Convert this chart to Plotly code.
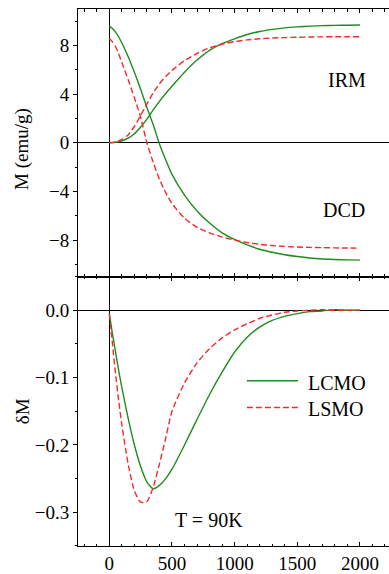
import plotly.graph_objects as go

# Applied field (Oe)
field = [0, 25, 50, 75, 100, 150, 200, 250, 300, 350, 400, 450, 500, 600, 700,
         800, 900, 1000, 1100, 1200, 1300, 1400, 1500, 1600, 1700, 1800, 1900, 2000]

# Remanence curves, M (emu/g)
irm_lcmo = [0, 0.01, 0.04, 0.09, 0.16, 0.38, 0.75, 1.3, 1.95, 2.7, 3.4, 4.05, 4.65, 5.8, 6.8,
            7.6, 8.15, 8.55, 8.9, 9.15, 9.32, 9.45, 9.53, 9.59, 9.63, 9.65, 9.67, 9.68]
dcd_lcmo = [9.57, 9.4, 9.1, 8.7, 8.2, 7.1, 5.8, 4.4, 2.9, 1.5, -0.1, -1.4, -2.6, -4.3, -5.6,
            -6.6, -7.4, -7.95, -8.4, -8.75, -9.0, -9.2, -9.35, -9.47, -9.55, -9.6, -9.63, -9.65]
irm_lsmo = [0, 0.02, 0.07, 0.15, 0.28, 0.65, 1.35, 2.25, 3.2, 4.1, 4.85, 5.45, 5.95, 6.75, 7.35,
            7.8, 8.1, 8.32, 8.46, 8.55, 8.61, 8.65, 8.68, 8.7, 8.71, 8.72, 8.72, 8.72]
dcd_lsmo = [8.58, 8.3, 7.9, 7.3, 6.6, 5.2, 3.7, 2.1, 0.0, -1.6, -3.0, -4.1, -5.0, -6.2, -6.95,
            -7.4, -7.75, -8.0, -8.2, -8.35, -8.45, -8.52, -8.57, -8.6, -8.62, -8.64, -8.65, -8.66]

# Henkel plot deviation, deltaM
dm_lcmo = [-0.005, -0.035, -0.062, -0.09, -0.115, -0.16, -0.2, -0.232, -0.255, -0.265, -0.26,
           -0.25, -0.236, -0.2, -0.162, -0.125, -0.092, -0.062, -0.04, -0.025, -0.015, -0.009,
           -0.005, -0.002, -0.001, 0.001, 0.0, 0.0]
dm_lsmo = [-0.005, -0.05, -0.095, -0.135, -0.17, -0.228, -0.268, -0.285, -0.284, -0.263, -0.228,
           -0.19, -0.15, -0.108, -0.078, -0.057, -0.041, -0.029, -0.02, -0.012, -0.007, -0.003,
           -0.001, 0.0, 0.001, 0.0, 0.0, 0.0]

GREEN = "#1e8c1e"
RED = "#f52a2a"
FONT = "Liberation Serif"
DASH = "6px,3px"

fig = go.Figure()

def add(y, color, dash, xa, ya):
    fig.add_trace(go.Scatter(
        x=field, y=y, mode="lines", xaxis=xa, yaxis=ya, showlegend=False,
        line=dict(color=color, width=1.4, dash=dash, shape="spline", smoothing=0.6),
        hoverinfo="skip"))

add(irm_lcmo, GREEN, "solid", "x", "y")
add(dcd_lcmo, GREEN, "solid", "x", "y")
add(irm_lsmo, RED, DASH, "x", "y")
add(dcd_lsmo, RED, DASH, "x", "y")
add(dm_lcmo, GREEN, "solid", "x2", "y2")
add(dm_lsmo, RED, DASH, "x2", "y2")

XR = [-250, 2232]
SPLIT = 0.5017

xcommon = dict(range=XR, showline=True, linecolor="black", linewidth=1, mirror="ticks",
               ticks="inside", ticklen=4, tickcolor="black", dtick=500, tick0=0,
               minor=dict(dtick=100, ticks="inside", ticklen=2.5, tickcolor="black"),
               showgrid=False, zeroline=True, zerolinecolor="black", zerolinewidth=1,
               tickfont=dict(family=FONT, size=19, color="black"), fixedrange=True)

ycommon = dict(showline=True, linecolor="black", linewidth=1, mirror=False,
               ticks="outside", ticklen=4, tickcolor="black", showgrid=False,
               zeroline=True, zerolinecolor="black", zerolinewidth=1,
               tickfont=dict(family=FONT, size=19, color="black"), fixedrange=True)

fig.update_layout(
    width=389, height=574,
    margin=dict(l=78, r=0, t=9, b=28),
    paper_bgcolor="white", plot_bgcolor="white",
    xaxis=dict(xcommon, anchor="y", showticklabels=False),
    yaxis=dict(ycommon, domain=[SPLIT, 1], anchor="x", range=[-11, 11], dtick=4, tick0=0,
               minor=dict(dtick=2, ticks="outside", ticklen=2.5, tickcolor="black")),
    xaxis2=dict(xcommon, anchor="y2", showticklabels=True),
    yaxis2=dict(ycommon, domain=[0, SPLIT], anchor="x2", range=[-0.35, 0.05], dtick=0.1,
                tick0=0, tickformat=".1f",
                minor=dict(dtick=0.05, ticks="outside", ticklen=2.5, tickcolor="black")),
    # tick marks along the right-hand frame
    yaxis3=dict(overlaying="y", side="right", anchor="x", range=[-11, 11], dtick=4, tick0=0,
                ticks="inside", ticklen=4, tickcolor="black", showticklabels=False,
                showline=False, showgrid=False, zeroline=False, fixedrange=True,
                minor=dict(dtick=2, ticks="inside", ticklen=2.5, tickcolor="black")),
    yaxis4=dict(overlaying="y2", side="right", anchor="x2", range=[-0.35, 0.05], dtick=0.1,
                tick0=0, ticks="inside", ticklen=4, tickcolor="black", showticklabels=False,
                showline=False, showgrid=False, zeroline=False, fixedrange=True,
                minor=dict(dtick=0.05, ticks="inside", ticklen=2.5, tickcolor="black")),
    showlegend=False,
)

txt = dict(family=FONT, size=20, color="black")
fig.add_annotation(text="M (emu/g)", textangle=-90, xref="paper", x=-0.18, xanchor="center",
                   yref="y", y=-0.5, yanchor="middle", showarrow=False,
                   font=dict(family=FONT, size=19, color="black"))
fig.add_annotation(text="δM", textangle=-90, xref="paper", x=-0.18, xanchor="center",
                   yref="y2", y=-0.15, yanchor="middle", showarrow=False,
                   font=dict(family=FONT, size=19, color="black"))
fig.add_annotation(text="IRM", xref="x", x=1895, yref="y", y=5.15, showarrow=False, font=txt)
fig.add_annotation(text="DCD", xref="x", x=1876, yref="y", y=-5.5, showarrow=False, font=txt)
fig.add_annotation(text="T = 90K", xref="x2", x=798, yref="y2", y=-0.311, showarrow=False,
                   font=txt)

# Legend drawn inside the lower panel
legend_items = [("LCMO", GREEN, "solid", -0.1046), ("LSMO", RED, DASH, -0.1443)]
for name, color, dash, yy in legend_items:
    fig.add_shape(type="line", xref="x2", yref="y2", x0=1098, x1=1505, y0=yy, y1=yy,
                  line=dict(color=color, width=1.4, dash=dash))
    fig.add_annotation(text=name, xref="x2", x=1568, xanchor="left", yref="y2", y=yy - 0.003,
                       showarrow=False, font=txt)

fig.write_html("out.html")
